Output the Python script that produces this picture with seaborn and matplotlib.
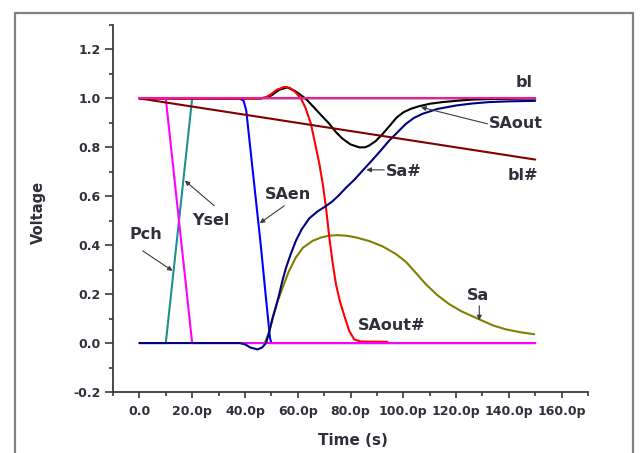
import matplotlib
matplotlib.use("Agg")
import matplotlib.pyplot as plt
import seaborn as sns
from matplotlib.ticker import MultipleLocator, FuncFormatter
from matplotlib.patches import Rectangle

# time in ps, voltage in V
bl_t = [0, 150]
bl_v = [1.0, 1.0]

blb_t = [0, 150]
blb_v = [1.0, 0.75]

pch_t = [0, 10, 20, 150]
pch_v = [1.0, 1.0, 0.0, 0.0]

ysel_t = [0, 10, 20, 150]
ysel_v = [0.0, 0.0, 1.0, 1.0]

saen_t = [0, 38, 39.5, 40.5, 42, 44, 46, 48, 49.5, 50, 150]
saen_v = [1.0, 1.0, 0.99, 0.95, 0.8, 0.6, 0.4, 0.18, 0.02, 0.0, 0.0]

sab_t = [0, 38, 40, 42, 44.8, 46.5, 48, 49.3, 50.5, 51.8, 53, 54.2, 55.6, 57.4,
         59.3, 61.5, 64.4, 67.5, 70.7, 73, 75.5, 78.3, 81.5, 84.6, 88, 90.9,
         94.7, 97.2, 101, 104, 107.3, 113, 120, 126, 132.6, 140, 150]
sab_v = [0.0, 0.0, -0.005, -0.018, -0.026, -0.018, 0.0, 0.05, 0.104, 0.15, 0.2,
         0.255, 0.309, 0.365, 0.418, 0.465, 0.51, 0.538, 0.56, 0.578, 0.603,
         0.635, 0.668, 0.705, 0.745, 0.78, 0.828, 0.855, 0.896, 0.92, 0.937,
         0.957, 0.971, 0.979, 0.985, 0.988, 0.99]

sa_t = [47.5, 49, 50.5, 52, 54.3, 56.5, 59.3, 62, 65.7, 69, 72, 75, 78.3, 82,
        87.1, 92.2, 97.2, 101, 104.5, 108.6, 113, 117.4, 122, 128.8, 134,
        138.9, 144, 149.6]
sa_v = [0.0, 0.04, 0.1, 0.16, 0.227, 0.29, 0.35, 0.39, 0.418, 0.432, 0.439,
        0.441, 0.439, 0.432, 0.417, 0.395, 0.364, 0.332, 0.29, 0.24, 0.195,
        0.159, 0.13, 0.097, 0.072, 0.056, 0.045, 0.036]

saoutb_t = [0, 46, 48, 50, 52, 54.9, 57, 59, 61.2, 63, 65, 66.7, 68.2, 69.5,
            70.7, 72, 73.2, 74.5, 76, 77.7, 79.5, 81.4, 84, 94]
saoutb_v = [1.0, 1.0, 1.005, 1.018, 1.035, 1.047, 1.043, 1.027, 1.0, 0.96,
            0.896, 0.81, 0.732, 0.65, 0.555, 0.43, 0.33, 0.24, 0.17, 0.11,
            0.05, 0.015, 0.006, 0.005]

saout_t = [0, 46, 48, 50, 53, 56, 59, 61, 63.1, 66, 69, 72, 74.5, 77, 80, 83.3,
           85.5, 87, 89.5, 92.2, 95, 97.5, 100, 103, 106, 110, 114.9, 120,
           126, 135, 150]
saout_v = [1.0, 1.0, 1.004, 1.012, 1.035, 1.045, 1.03, 1.015, 0.998, 0.965,
           0.93, 0.896, 0.862, 0.835, 0.812, 0.8, 0.8, 0.807, 0.825, 0.855,
           0.89, 0.922, 0.943, 0.958, 0.968, 0.978, 0.985, 0.99, 0.995, 0.998, 1.0]

x_ticks = [0, 20, 40, 60, 80, 100, 120, 140, 160]
y_ticks = [-0.2, 0.0, 0.2, 0.4, 0.6, 0.8, 1.0, 1.2]

sns.set_style("ticks")
plt.rcParams["font.family"] = ["DejaVu Sans"]
plt.rcParams["font.weight"] = "bold"

txt = "#30303c"
fig = plt.figure(figsize=(6.41, 4.53), dpi=100)
ax = fig.add_axes([113 / 641, 1 - 392 / 453, 475 / 641, 367 / 453])

# draw order matters: later series sit on top
series = [
    (ysel_t, ysel_v, "#1f8f8f"),
    (saen_t, saen_v, "#0000ff"),
    (sa_t, sa_v, "#808000"),
    (saout_t, saout_v, "#000000"),
    (saoutb_t, saoutb_v, "#ff0000"),
    (pch_t, pch_v, "#ff00ff"),
    (sab_t, sab_v, "#000080"),
    (blb_t, blb_v, "#800000"),
    (bl_t, bl_v, "#ff1493"),
]
for t, v, c in series:
    sns.lineplot(x=t, y=v, color=c, linewidth=1.5, sort=False,
                 estimator=None, ax=ax)

ax.set_xlim(-10, 170)
ax.set_ylim(-0.2, 1.3)
ax.set_xticks(x_ticks)
ax.set_yticks(y_ticks)
ax.xaxis.set_minor_locator(MultipleLocator(10))
ax.yaxis.set_minor_locator(MultipleLocator(0.1))
ax.xaxis.set_major_formatter(FuncFormatter(lambda x, p: "0.0" if x == 0 else f"{x:.1f}p"))
ax.yaxis.set_major_formatter(FuncFormatter(lambda y, p: f"{y:.1f}"))

for s in ["top", "right"]:
    ax.spines[s].set_visible(False)
for s in ["left", "bottom"]:
    ax.spines[s].set_color("#3a3a3a")
    ax.spines[s].set_linewidth(1.3)

ax.tick_params(which="major", direction="out", length=5.5, width=1.2,
               color="#3a3a3a", labelsize=9, labelcolor=txt, pad=3.5)
ax.tick_params(which="minor", direction="out", length=3, width=1.2, color="#3a3a3a")
ax.tick_params(axis="x", which="major", length=4.5, pad=5)
for lab in ax.get_xticklabels() + ax.get_yticklabels():
    lab.set_fontweight("bold")

ax.set_xlabel("Time (s)", fontsize=11, fontweight="bold", color=txt)
ax.set_ylabel("Voltage", fontsize=10.5, fontweight="bold", color=txt)
ax.xaxis.set_label_coords(0.505, -0.131)
ax.xaxis.label.set_va("center")
ax.yaxis.set_label_coords(-0.158, 0.49)
ax.yaxis.label.set_va("center")

# curve labels
arrow = dict(arrowstyle="-|>", color="#3c3c3c", lw=0.8, mutation_scale=7,
             shrinkA=0, shrinkB=0)
fs = 11.5
ax.text(145.8, 1.067, "bl", fontsize=fs, color=txt, ha="center", va="center")
ax.text(145.2, 0.684, "bl#", fontsize=fs, color=txt, ha="center", va="center")
ax.text(142.7, 0.896, "SAout", fontsize=fs, color=txt, ha="center", va="center")
ax.annotate("", xy=(106.7, 0.964), xytext=(131.9, 0.896), arrowprops=arrow)
ax.text(100, 0.70, "Sa#", fontsize=fs, color=txt, ha="center", va="center")
ax.annotate("", xy=(86, 0.708), xytext=(92.8, 0.708), arrowprops=arrow)
ax.text(56.2, 0.609, "SAen", fontsize=fs, color=txt, ha="center", va="center")
ax.annotate("", xy=(45.6, 0.49), xytext=(54.9, 0.561), arrowprops=arrow)
ax.text(27.1, 0.50, "Ysel", fontsize=fs, color=txt, ha="center", va="center")
ax.annotate("", xy=(17.2, 0.664), xytext=(28.4, 0.561), arrowprops=arrow)
ax.text(2.5, 0.445, "Pch", fontsize=fs, color=txt, ha="center", va="center")
ax.annotate("", xy=(12.6, 0.295), xytext=(1.25, 0.377), arrowprops=arrow)
ax.text(128.2, 0.193, "Sa", fontsize=fs, color=txt, ha="center", va="center")
ax.annotate("", xy=(128.8, 0.093), xytext=(128.8, 0.152), arrowprops=arrow)
ax.text(95.6, 0.07, "SAout#", fontsize=fs, color=txt, ha="center", va="center")

# grey frame around the figure, open at the bottom edge
fig.patches.append(Rectangle((15 / 641, -0.1), 618 / 641, 1.1 - 13 / 453,
                             transform=fig.transFigure, fill=False,
                             edgecolor="#808080", linewidth=1.6))

fig.savefig("out.png", dpi=100, facecolor="white")
